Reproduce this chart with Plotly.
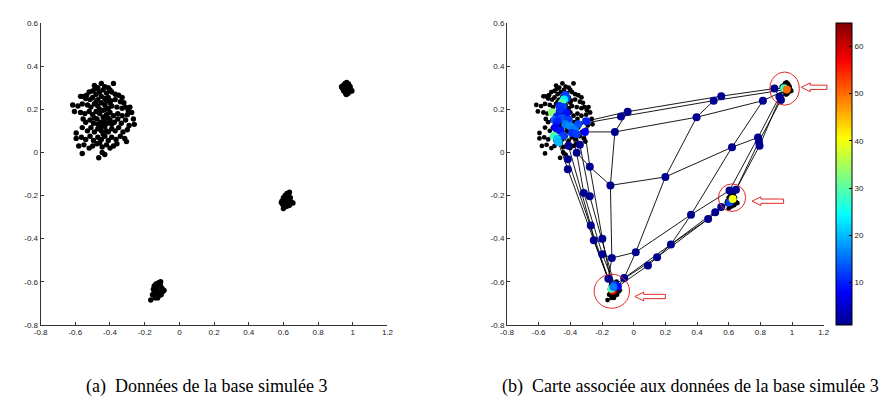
import plotly.graph_objects as go

W, H = 890, 403

# ---------------- data: simulated base 3 (four clusters) ----------------
c1_x = [-0.49, -0.47, -0.45, -0.43, -0.41, -0.38, -0.40, -0.485,
        -0.52, -0.50, -0.48, -0.46, -0.44, -0.42, -0.39, -0.37, -0.35, -0.33, -0.555, -0.535,
        -0.57, -0.54, -0.515, -0.50, -0.47, -0.45, -0.43, -0.41, -0.395, -0.37, -0.34, -0.32,
        -0.615, -0.585, -0.56, -0.53, -0.51, -0.49, -0.47, -0.45, -0.43, -0.41, -0.39, -0.36, -0.33, -0.31, -0.285, -0.295, -0.275,
        -0.605, -0.57, -0.545, -0.52, -0.50, -0.48, -0.46, -0.44, -0.42, -0.40, -0.38, -0.355, -0.33, -0.30,
        -0.555, -0.54, -0.515, -0.495, -0.475, -0.455, -0.435, -0.415, -0.40, -0.375, -0.355, -0.335, -0.31, -0.26, -0.265, -0.29,
        -0.56, -0.53, -0.51, -0.49, -0.47, -0.45, -0.43, -0.41, -0.39, -0.37, -0.35, -0.325, -0.30, -0.595,
        -0.595, -0.565, -0.54, -0.515, -0.495, -0.47, -0.45, -0.43, -0.41, -0.39, -0.365, -0.34, -0.315, -0.305,
        -0.58, -0.55, -0.52, -0.50, -0.475, -0.445, -0.42, -0.40, -0.38, -0.36,
        -0.56, -0.465, -0.445, -0.43,
        -0.46, -0.44, -0.425, -0.47, -0.45, -0.43, -0.41, -0.39, -0.49, -0.40, -0.48, -0.42, -0.44, -0.46, -0.42]
c1_y = [0.31, 0.30, 0.32, 0.305, 0.30, 0.32, 0.29, 0.295,
        0.28, 0.285, 0.27, 0.28, 0.29, 0.275, 0.28, 0.27, 0.265, 0.255, 0.26, 0.265,
        0.26, 0.25, 0.245, 0.255, 0.245, 0.26, 0.25, 0.255, 0.24, 0.245, 0.235, 0.23,
        0.22, 0.215, 0.225, 0.22, 0.21, 0.225, 0.215, 0.23, 0.22, 0.205, 0.215, 0.21, 0.205, 0.21, 0.21, 0.195, 0.185,
        0.19, 0.185, 0.18, 0.19, 0.175, 0.19, 0.18, 0.195, 0.175, 0.185, 0.17, 0.18, 0.17, 0.175,
        0.155, 0.14, 0.15, 0.135, 0.155, 0.14, 0.155, 0.135, 0.15, 0.14, 0.155, 0.135, 0.15, 0.13, 0.155, 0.125,
        0.115, 0.10, 0.115, 0.095, 0.11, 0.10, 0.12, 0.095, 0.11, 0.10, 0.115, 0.095, 0.105, 0.09,
        0.065, 0.07, 0.06, 0.075, 0.055, 0.07, 0.06, 0.075, 0.055, 0.07, 0.06, 0.075, 0.065, 0.05,
        0.03, 0.035, 0.02, 0.03, 0.04, 0.025, 0.035, 0.02, 0.03, 0.04,
        -0.005, -0.025, 0.0, -0.01,
        0.20, 0.165, 0.20, 0.13, 0.12, 0.14, 0.16, 0.13, 0.16, 0.23, 0.235, 0.24, 0.085, 0.045, 0.10]

c3_x = [0.945, 0.955, 0.965, 0.975, 0.985, 0.99, 0.98, 0.97, 0.958, 0.948,
        0.94, 0.96, 0.972, 0.962, 0.952, 0.978, 0.968, 0.995, 0.935, 0.962]
c3_y = [0.31, 0.32, 0.325, 0.318, 0.305, 0.29, 0.28, 0.272, 0.275, 0.285,
        0.298, 0.30, 0.295, 0.288, 0.305, 0.31, 0.31, 0.285, 0.305, 0.268]

c2_x = [0.60, 0.61, 0.62, 0.63, 0.64, 0.645, 0.635, 0.62, 0.605, 0.595,
        0.592, 0.615, 0.628, 0.61, 0.625, 0.655, 0.60, 0.635, 0.618, 0.588]
c2_y = [-0.21, -0.20, -0.19, -0.195, -0.21, -0.23, -0.245, -0.25, -0.255, -0.24,
        -0.225, -0.22, -0.225, -0.235, -0.208, -0.235, -0.26, -0.185, -0.24, -0.232]

c4_x = [-0.145, -0.135, -0.12, -0.11, -0.10, -0.095, -0.105, -0.12, -0.135, -0.145,
        -0.15, -0.128, -0.115, -0.13, -0.14, -0.165, -0.088, -0.125, -0.108, -0.155]
c4_y = [-0.62, -0.61, -0.605, -0.615, -0.63, -0.645, -0.66, -0.665, -0.66, -0.65,
        -0.635, -0.64, -0.645, -0.625, -0.675, -0.685, -0.64, -0.675, -0.60, -0.66]

data_x = c1_x + c2_x + c3_x + c4_x
data_y = c1_y + c2_y + c3_y + c4_y

# ---------------- map (prototypes) ----------------
node_x = [-0.038, -0.080, -0.119, 0.505, 0.553, 0.397, 0.816, 0.889, 0.920, 0.930,
          0.785, 0.791, 0.795, 0.621, 0.200, -0.147, -0.277, -0.360, -0.340, -0.412,
          -0.416, -0.416, -0.315, -0.277, -0.271, -0.252, -0.198, -0.198, -0.138, 0.013,
          0.090, 0.148, 0.235, 0.362, 0.470, 0.515, 0.553, 0.605, 0.646, -0.060,
          -0.160, -0.298, -0.308,
          0.950, 0.967,
          0.605, 0.625,
          -0.132, -0.140, -0.122, -0.100, -0.128,
          -0.432, -0.425, -0.440, -0.453, -0.470, -0.445, -0.516, -0.464, -0.484, -0.422,
          -0.453, -0.500, -0.484, -0.410, -0.432, -0.402, -0.371, -0.350, -0.381, -0.495,
          -0.464, -0.390, -0.360, -0.443, -0.505, -0.484, -0.474]
node_y = [0.189, 0.166, 0.095, 0.240, 0.261, 0.163, 0.240, 0.296, 0.258, 0.243,
          0.069, 0.051, 0.031, 0.024, -0.114, -0.153, -0.067, -0.002, 0.036, 0.031,
          -0.032, -0.078, -0.188, -0.203, -0.339, -0.407, -0.400, -0.472, -0.490, -0.463,
          -0.525, -0.486, -0.427, -0.289, -0.309, -0.278, -0.253, -0.177, -0.173, -0.583,
          -0.586, 0.145, 0.095,
          0.298, 0.292,
          -0.233, -0.216,
          -0.642, -0.632, -0.615, -0.622, -0.624,
          0.266, 0.250, 0.245, 0.230, 0.215, 0.210, 0.186, 0.198, 0.167, 0.183,
          0.160, 0.150, 0.145, 0.150, 0.130, 0.122, 0.115, 0.130, 0.107, 0.115,
          0.100, 0.090, 0.085, 0.077, 0.077, 0.062, 0.047]
node_v = [1] * 41 + [10, 8] + [28, 50] + [12, 40] + [58, 30, 12, 8, 16] + \
         [12, 13, 24, 30, 11, 12, 33, 11, 10, 9,
          13, 14, 10, 12, 16, 17, 18, 13, 16, 8,
          9, 11, 12, 12, 29, 21, 20]

paths = [
    [41, 0, 4, 7, 43], [69, 1, 3, 44], [42, 2, 5, 6, 44],
    [17, 16, 15, 14, 13, 10], [27, 28, 29, 33, 37],
    [50, 30, 31, 32, 34, 35, 36, 45], [49, 31, 34, 46], [39, 32, 36, 45],
    [0, 2, 15, 28, 40, 49], [3, 5, 14, 29, 39, 50], [6, 13, 33, 32],
    [43, 8, 10, 37], [44, 9, 11, 38], [43, 12, 38], [7, 8],
    [75, 19, 24, 25, 47], [78, 20, 48], [77, 21, 48], [70, 18, 23, 49],
    [73, 17, 22, 27, 49], [42, 16, 26, 47],
]

cbar_ticks = [10, 20, 30, 40, 50, 60]
c_min, c_max = 1, 65

# highlight circles (b): center x, center y, radius x, radius y
circ_cx = [0.953, 0.621, -0.138]
circ_cy = [0.296, -0.210, -0.644]
circ_rx = [0.093, 0.086, 0.112]
circ_ry = [0.077, 0.064, 0.079]

# arrows (pixel positions): tip x, tip y, tail x
arr_tip_x = [798, 748, 629]
arr_tip_y = [77, 193.5, 291]
arr_tail_x = [824, 780, 660]

tickvals_x = [-0.8, -0.6, -0.4, -0.2, 0, 0.2, 0.4, 0.6, 0.8, 1, 1.2]
ticktext_x = ["-0.8", "-0.6", "-0.4", "-0.2", "0", "0.2", "0.4", "0.6", "0.8", "1", "1.2"]
tickvals_y = [-0.8, -0.6, -0.4, -0.2, 0, 0.2, 0.4, 0.6]
ticktext_y = ["-0.8", "-0.6", "-0.4", "-0.2", "0", "0.2", "0.4", "0.6"]

captions = ["(a)\u00a0\u00a0Données de la base simulée 3",
            "(b)\u00a0\u00a0Carte associée aux données de la base simulée 3"]
cap_center_x = [194, 686]

jet = [[0.0, "rgb(0,0,143)"], [0.111, "rgb(0,0,255)"], [0.365, "rgb(0,255,255)"],
       [0.619, "rgb(255,255,0)"], [0.873, "rgb(255,0,0)"], [1.0, "rgb(128,0,0)"]]

# ---------------- figure ----------------
fig = go.Figure()

fig.add_trace(go.Scatter(x=data_x, y=data_y, mode="markers", xaxis="x", yaxis="y",
                         marker=dict(color="black", size=5.4, line=dict(width=0)),
                         showlegend=False, hoverinfo="skip"))

fig.add_trace(go.Scatter(x=data_x, y=data_y, mode="markers", xaxis="x2", yaxis="y2",
                         marker=dict(color="black", size=4.8, line=dict(width=0)),
                         showlegend=False, hoverinfo="skip"))

lx, ly = [], []
for p in paths:
    for i in p:
        lx.append(node_x[i])
        ly.append(node_y[i])
    lx.append(None)
    ly.append(None)
fig.add_trace(go.Scatter(x=lx, y=ly, mode="lines", xaxis="x2", yaxis="y2",
                         line=dict(color="black", width=0.9),
                         showlegend=False, hoverinfo="skip"))

fig.add_trace(go.Scatter(
    x=node_x, y=node_y, mode="markers", xaxis="x2", yaxis="y2",
    marker=dict(color=node_v, colorscale=jet, cmin=c_min, cmax=c_max, size=8,
                line=dict(width=0), showscale=True,
                colorbar=dict(x=833 / W, xanchor="left", xref="paper", xpad=0,
                              y=(H - 320) / H, yanchor="bottom", yref="paper", ypad=0,
                              len=308.7 / H, lenmode="fraction",
                              thickness=16, thicknessmode="pixels",
                              outlinewidth=1, outlinecolor="black",
                              tickvals=cbar_ticks, ticks="inside", ticklen=3,
                              tickcolor="black",
                              tickfont=dict(family="Liberation Sans, Arial", size=8, color="#222"))),
    showlegend=False, hoverinfo="skip"))

axis_common = dict(showgrid=False, zeroline=False, showline=True, linecolor="#333", linewidth=1,
                   ticks="inside", ticklen=3, tickcolor="#333", mirror=False,
                   tickfont=dict(family="Liberation Sans, Arial", size=8, color="#222"))

ydom = [(H - 320) / H, (H - 11.3) / H]
fig.update_layout(
    width=W, height=H, autosize=False,
    margin=dict(l=0, r=0, t=0, b=0),
    paper_bgcolor="white", plot_bgcolor="white",
    xaxis=dict(domain=[26 / W, 378 / W], range=[-0.8, 1.2], anchor="y",
               tickvals=tickvals_x, ticktext=ticktext_x, **axis_common),
    yaxis=dict(domain=ydom, range=[-0.8, 0.6], anchor="x",
               tickvals=tickvals_y, ticktext=ticktext_y, **axis_common),
    xaxis2=dict(domain=[499.3 / W, 820.7 / W], range=[-0.8, 1.2], anchor="y2",
                tickvals=tickvals_x, ticktext=ticktext_x, **axis_common),
    yaxis2=dict(domain=ydom, range=[-0.8, 0.6], anchor="x2",
                tickvals=tickvals_y, ticktext=ticktext_y, **axis_common),
)

shapes = []
for cx, cy, rx, ry in zip(circ_cx, circ_cy, circ_rx, circ_ry):
    shapes.append(dict(type="circle", xref="x2", yref="y2",
                       x0=cx - rx, x1=cx + rx, y0=cy - ry, y1=cy + ry,
                       line=dict(color="rgb(225,40,40)", width=1)))

def px(x):
    return x / W

def py(y):
    return 1 - y / H

head_len, head_half, shaft_half = 9, 4.5, 2.2
for tx, ty, tl in zip(arr_tip_x, arr_tip_y, arr_tail_x):
    pts = [(tx, ty), (tx + head_len, ty - head_half), (tx + head_len, ty - shaft_half),
           (tl, ty - shaft_half), (tl, ty + shaft_half), (tx + head_len, ty + shaft_half),
           (tx + head_len, ty + head_half)]
    path = "M " + " L ".join(f"{px(a):.5f},{py(b):.5f}" for a, b in pts) + " Z"
    shapes.append(dict(type="path", xref="paper", yref="paper", path=path,
                       line=dict(color="rgb(225,40,40)", width=1), fillcolor="white"))
fig.update_layout(shapes=shapes)

for cx, txt in zip(cap_center_x, captions):
    fig.add_annotation(x=cx / W, y=1 - 383 / H, xref="paper", yref="paper",
                       xanchor="center", yanchor="middle", text=txt, showarrow=False,
                       font=dict(family="Liberation Serif, Times New Roman", size=18, color="black"))

fig.write_html("out.html")
